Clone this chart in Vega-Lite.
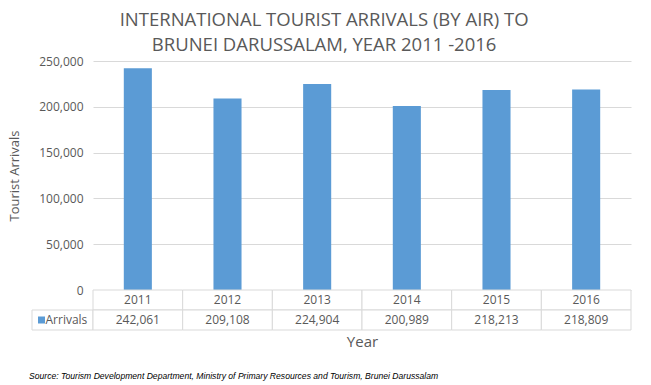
{
  "$schema": "https://vega.github.io/schema/vega-lite/v6.json",
  "background": "white",
  "padding": {"left": 8, "top": 10, "right": 5, "bottom": 5},
  "title": {
    "text": ["INTERNATIONAL TOURIST ARRIVALS (BY AIR) TO", "BRUNEI DARUSSALAM, YEAR 2011 -2016"],
    "font": "Open Sans", "fontSize": 18.5, "fontWeight": "normal", "color": "#595959",
    "lineHeight": 25, "anchor": "middle", "frame": "bounds", "offset": 1, "dx": 4
  },
  "data": {"values": [
    {"year": "2011", "arrivals": 242061},
    {"year": "2012", "arrivals": 209108},
    {"year": "2013", "arrivals": 224904},
    {"year": "2014", "arrivals": 200989},
    {"year": "2015", "arrivals": 218213},
    {"year": "2016", "arrivals": 218809}
  ]},
  "config": {"view": {"stroke": null}, "font": "Open Sans"},
  "bounds": "flush",
  "spacing": 0,
  "columns": 2,
  "concat": [
    {"width": 61, "height": 229, "data": {"values": [{}]}, "mark": {"type": "rect", "opacity": 0}, "encoding": {}},
    {
      "width": 538, "height": 229,
      "mark": {"type": "bar", "color": "#5b9bd5"},
      "encoding": {
        "x": {"field": "year", "type": "ordinal", "scale": {"paddingInner": 0.687, "paddingOuter": 0.3435}, "axis": null},
        "y": {"field": "arrivals", "type": "quantitative", "scale": {"domain": [0, 250000]},
          "axis": {"values": [0, 50000, 100000, 150000, 200000, 250000], "format": ",.0f", "title": "Tourist Arrivals",
            "grid": true, "gridColor": "#d9d9d9", "domain": false, "ticks": false, "labelPadding": 10,
            "labelFontSize": 12, "labelColor": "#595959", "labelFont": "Open Sans",
            "titleFontSize": 13, "titleColor": "#595959", "titleFontWeight": "normal", "titleFont": "Open Sans", "titlePadding": 17}}
      }
    },
    {
      "width": 61, "height": 40,
      "data": {"values": [{}]},
      "title": {"text": "Source: Tourism Development Department, Ministry of Primary Resources and Tourism, Brunei Darussalam",
        "orient": "bottom", "anchor": "start", "frame": "group", "font": "Liberation Sans", "fontStyle": "italic",
        "fontSize": 8.6, "fontWeight": "normal", "color": "#000000", "offset": 41, "dx": -3},
      "encoding": {"y": {"datum": "val", "type": "ordinal", "scale": {"domain": ["yr", "val"], "paddingInner": 0, "paddingOuter": 0}, "axis": null}},
      "layer": [
        {"mark": {"type": "rect", "fill": "white", "stroke": "#d9d9d9", "strokeWidth": 1}},
        {"mark": {"type": "point", "shape": "square", "filled": true, "color": "#5b9bd5", "opacity": 1, "size": 49, "xOffset": -21}},
        {"mark": {"type": "text", "text": "Arrivals", "align": "left", "dx": -17, "fontSize": 12, "color": "#595959"}}
      ]
    },
    {
      "width": 538, "height": 40,
      "encoding": {
        "x": {"field": "year", "type": "ordinal", "scale": {"paddingInner": 0, "paddingOuter": 0},
          "axis": {"title": "Year", "labels": false, "ticks": false, "domain": false, "titleFontSize": 15,
            "titleColor": "#595959", "titleFontWeight": "normal", "titlePadding": 4}}
      },
      "layer": [
        {"mark": {"type": "rect", "fill": "white", "stroke": "#d9d9d9", "strokeWidth": 1},
          "encoding": {"y": {"datum": "yr", "type": "ordinal", "scale": {"domain": ["yr", "val"], "paddingInner": 0, "paddingOuter": 0}, "axis": null}}},
        {"mark": {"type": "rect", "fill": "white", "stroke": "#d9d9d9", "strokeWidth": 1},
          "encoding": {"y": {"datum": "val", "type": "ordinal", "axis": null}}},
        {"mark": {"type": "text", "fontSize": 12, "color": "#595959"},
          "encoding": {"y": {"datum": "yr", "type": "ordinal", "axis": null}, "text": {"field": "year"}}},
        {"mark": {"type": "text", "fontSize": 12, "color": "#595959"},
          "encoding": {"y": {"datum": "val", "type": "ordinal", "axis": null}, "text": {"field": "arrivals", "type": "quantitative", "format": ",.0f"}}}
      ]
    }
  ]
}
